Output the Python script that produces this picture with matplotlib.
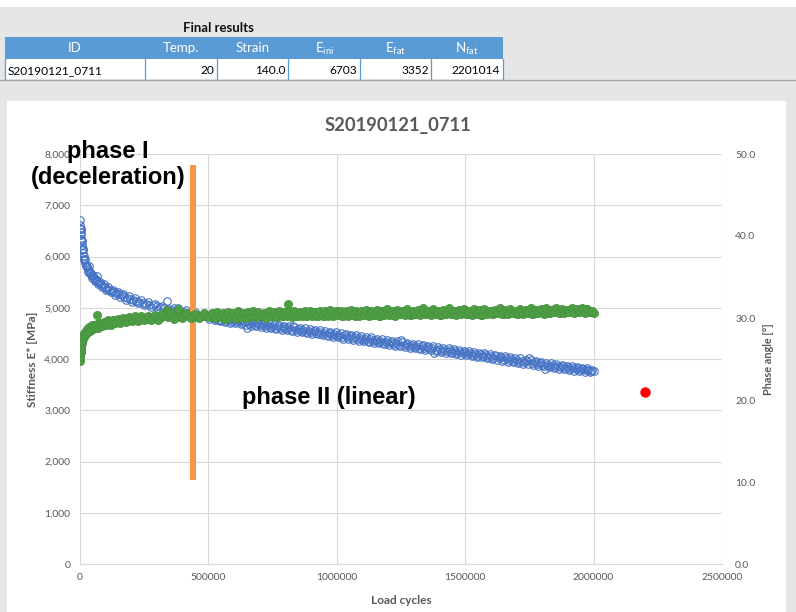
import matplotlib
matplotlib.use("Agg")
import matplotlib.pyplot as plt
from matplotlib.patches import Rectangle
from matplotlib.lines import Line2D

# ---------------- data ----------------
table_title = "Final results"
table_headers = ["ID", "Temp.", "Strain", r"E$_\mathregular{ini}$", r"E$_\mathregular{fat}$", r"N$_\mathregular{fat}$"]
table_values = ["S20190121_0711", "20", "140.0", "6703", "3352", "2201014"]

chart_title = "S20190121_0711"
x_label = "Load cycles"
y_label = "Stiffness E* [MPa]"
y2_label = "Phase angle [°]"

# load cycles in thousands (first set of readings)
cycles_k = [0, 1, 2, 3, 4, 5, 6, 8, 10, 12, 14, 17, 20, 23, 26, 30, 34, 38, 43, 48,
            54, 60, 67, 74, 81, 89, 97, 105, 114, 123, 132, 142, 152, 162, 173, 184,
            195, 207, 219, 231, 244, 257, 270, 284, 298, 312, 327, 342, 357, 373, 389,
            405, 422, 439, 456, 474, 492, 510,
            520, 530, 540, 550, 560, 570, 580, 590, 600, 610, 620, 630, 640, 650, 660,
            670, 680, 690, 700, 710, 720, 730, 740, 750, 760, 770, 780, 790, 800, 810,
            820, 830, 840, 850, 860, 870, 880, 890, 900, 910, 920, 930, 940, 950, 960,
            970, 980, 990, 1000, 1010, 1020, 1030, 1040, 1050, 1060, 1070, 1080, 1090,
            1100, 1110, 1120, 1130, 1140, 1150, 1160, 1170, 1180, 1190, 1200, 1210,
            1220, 1230, 1240, 1250, 1260, 1270, 1280, 1290, 1300, 1310, 1320, 1330,
            1340, 1350, 1360, 1370, 1380, 1390, 1400, 1410, 1420, 1430, 1440, 1450,
            1460, 1470, 1480, 1490, 1500, 1510, 1520, 1530, 1540, 1550, 1560, 1570,
            1580, 1590, 1600, 1610, 1620, 1630, 1640, 1650, 1660, 1670, 1680, 1690,
            1700, 1710, 1720, 1730, 1740, 1750, 1760, 1770, 1780, 1790, 1800, 1810,
            1820, 1830, 1840, 1850, 1860, 1870, 1880, 1890, 1900, 1910, 1920, 1930,
            1940, 1950, 1960, 1970, 1980, 1990, 2000]

stiffness = [6703, 6620, 6540, 6470, 6410, 6350, 6300, 6220, 6140, 6070, 6010, 5940,
             5880, 5830, 5790, 5750, 5710, 5680, 5640, 5610, 5580, 5550, 5520, 5490,
             5460, 5430, 5400, 5375, 5350, 5325, 5300, 5280, 5260, 5240, 5215, 5195,
             5175, 5155, 5135, 5115, 5095, 5075, 5060, 5045, 5025, 5010, 4995, 4975,
             4960, 4945, 4925, 4910, 4895, 4875, 4860, 4845, 4830, 4815,
             4790, 4810, 4770, 4760, 4790, 4740, 4770, 4730, 4760, 4720, 4740, 4700,
             4730, 4610, 4690, 4710, 4670, 4700, 4660, 4680, 4640, 4670, 4630, 4650,
             4610, 4640, 4600, 4630, 4590, 4610, 4570, 4640, 4560, 4580, 4540, 4570,
             4530, 4550, 4520, 4540, 4500, 4530, 4490, 4510, 4470, 4500, 4460, 4490,
             4450, 4470, 4430, 4460, 4420, 4440, 4410, 4430, 4390, 4410, 4380, 4400,
             4360, 4390, 4350, 4370, 4330, 4360, 4320, 4340, 4310, 4330, 4290, 4320,
             4280, 4370, 4270, 4290, 4250, 4270, 4240, 4260, 4220, 4250, 4210, 4230,
             4200, 4220, 4110, 4180, 4200, 4160, 4180, 4150, 4170, 4130, 4160, 4120,
             4140, 4110, 4130, 4090, 4110, 4080, 4100, 4060, 4090, 4050, 4070, 4040,
             4060, 4020, 4050, 4010, 4030, 3990, 4020, 3980, 4000, 3970, 3990, 3950,
             3970, 3940, 3960, 4010, 3920, 3940, 3900, 3920, 3890, 3800, 3880, 3870,
             3890, 3850, 3870, 3840, 3860, 3830, 3840, 3810, 3830, 3800, 3820, 3790,
             3800, 3780, 3790, 3770, 3760]

phase_angle = [24.7, 25.3, 25.8, 26.2, 26.5, 26.8, 27.0, 27.3, 27.5, 27.7, 27.9, 28.0,
               28.2, 28.3, 28.4, 28.5, 28.6, 28.7, 28.8, 28.9, 28.9, 29.0, 30.4, 29.1,
               29.2, 29.2, 29.3, 29.4, 29.4, 29.5, 29.6, 29.6, 29.7, 29.6, 29.8, 29.7,
               29.8, 29.9, 29.8, 29.9, 30.0, 29.9, 30.1, 30.0, 30.2, 30.0, 30.3, 30.1,
               30.4, 30.1, 30.5, 30.2, 30.3, 30.1, 30.4, 30.2, 30.3, 30.2,
               30.3, 30.1, 30.4, 30.2, 30.5, 30.3, 30.1, 30.4, 30.2, 30.0, 30.3, 30.5,
               30.2, 30.4, 30.1, 30.3, 30.6, 30.4, 30.2, 30.5, 30.3, 30.1, 30.4, 30.6,
               30.3, 30.2, 30.5, 30.3, 30.6, 31.7, 30.4, 30.2, 30.5, 30.3, 30.6, 30.4,
               30.2, 30.5, 30.7, 30.4, 30.3, 30.6, 30.4, 30.2, 30.5, 30.7, 30.4, 30.6,
               30.9, 30.5, 30.3, 30.6, 30.4, 30.7, 30.5, 30.3, 30.6, 30.4, 30.7, 30.5,
               30.8, 30.6, 30.4, 30.7, 30.5, 30.3, 30.6, 30.8, 30.5, 30.7, 30.4, 30.6,
               30.9, 30.7, 30.5, 30.8, 30.6, 30.4, 30.7, 30.5, 30.8, 31.0, 30.6, 30.8,
               30.5, 30.7, 30.9, 30.6, 30.4, 30.7, 30.5, 30.8, 31.0, 30.7, 30.5, 30.8,
               30.6, 30.9, 30.7, 30.5, 30.8, 30.6, 30.9, 30.7, 30.4, 30.7, 30.9, 30.6,
               30.8, 30.5, 30.7, 31.0, 30.7, 30.5, 30.8, 30.6, 30.9, 30.7, 30.5, 30.8,
               30.6, 30.9, 31.0, 30.7, 30.5, 30.8, 30.6, 30.9, 30.7, 31.0, 30.8, 30.6,
               30.9, 31.1, 30.8, 30.6, 30.9, 30.7, 31.0, 30.8, 31.1, 30.9, 30.7, 31.0,
               30.8, 31.1, 30.9, 30.7, 30.6]

# second, interleaved set of readings (load cycles in thousands)
cycles_k_b = [1.5, 2.5, 4.5, 7, 9, 11, 15, 18, 22, 28,
              32, 35, 40, 46, 51, 57, 64, 67, 71, 78,
              85, 93, 101, 110, 119, 128, 137, 147, 157, 168,
              179, 190, 201, 213, 225, 238, 250, 263, 277, 291,
              305, 320, 337, 350, 365, 382, 397, 414, 431, 448,
              465, 483, 501,
              515, 525, 535, 545, 555, 565, 575, 585, 595, 605,
              615, 625, 635, 645, 655, 665, 675, 685, 695, 705,
              715, 725, 735, 745, 755, 765, 775, 785, 795, 805,
              815, 825, 835, 845, 855, 865, 875, 885, 895, 905,
              915, 925, 935, 945, 955, 965, 975, 985, 995, 1005,
              1015, 1025, 1035, 1045, 1055, 1065, 1075, 1085, 1095, 1105,
              1115, 1125, 1135, 1145, 1155, 1165, 1175, 1185, 1195, 1205,
              1215, 1225, 1235, 1245, 1255, 1265, 1275, 1285, 1295, 1305,
              1315, 1325, 1335, 1345, 1355, 1365, 1375, 1385, 1395, 1405,
              1415, 1425, 1435, 1445, 1455, 1465, 1475, 1485, 1495, 1505,
              1515, 1525, 1535, 1545, 1555, 1565, 1575, 1585, 1595, 1605,
              1615, 1625, 1635, 1645, 1655, 1665, 1675, 1685, 1695, 1705,
              1715, 1725, 1735, 1745, 1755, 1765, 1775, 1785, 1795, 1805,
              1815, 1825, 1835, 1845, 1855, 1865, 1875, 1885, 1895, 1905,
              1915, 1925, 1935, 1945, 1955, 1965, 1975, 1985, 1995]

stiffness_b = [6560, 6530, 6330, 6300, 6130, 6140, 5950, 5960, 5820, 5800,
               5690, 5820, 5700, 5590, 5630, 5530, 5570, 5610, 5470, 5510,
               5410, 5460, 5350, 5400, 5300, 5350, 5250, 5310, 5210, 5270,
               5160, 5230, 5120, 5190, 5090, 5150, 5050, 5110, 5020, 5080,
               4980, 5040, 5140, 4930, 5000, 5000, 4880, 4950, 4840, 4910,
               4810, 4880, 4780,
               4850, 4760, 4830, 4740, 4820, 4720, 4800, 4710, 4790, 4700,
               4780, 4680, 4760, 4670, 4750, 4650, 4740, 4640, 4720, 4630,
               4710, 4610, 4700, 4600, 4680, 4590, 4670, 4570, 4650, 4560,
               4640, 4540, 4630, 4530, 4610, 4520, 4600, 4500, 4590, 4490,
               4570, 4480, 4560, 4460, 4540, 4450, 4530, 4430, 4520, 4420,
               4500, 4400, 4490, 4390, 4470, 4380, 4460, 4360, 4450, 4350,
               4430, 4340, 4420, 4320, 4400, 4310, 4390, 4290, 4370, 4280,
               4360, 4260, 4350, 4250, 4330, 4240, 4320, 4220, 4300, 4210,
               4290, 4190, 4280, 4180, 4260, 4170, 4250, 4150, 4230, 4140,
               4220, 4120, 4210, 4110, 4190, 4100, 4180, 4080, 4160, 4070,
               4150, 4050, 4140, 4040, 4120, 4030, 4110, 4010, 4090, 4000,
               4080, 3980, 4060, 3970, 4050, 3950, 4040, 3940, 4020, 3930,
               4010, 3910, 3990, 3900, 3980, 3880, 3960, 3870, 3950, 3860,
               3930, 3840, 3920, 3830, 3900, 3810, 3890, 3800, 3870, 3790,
               3860, 3770, 3850, 3760, 3830, 3750, 3820, 3740, 3790]

phase_angle_b = [25.4, 25.9, 26.4, 27.3, 27.2, 27.9, 27.7, 28.3, 28.0, 28.7,
                 28.3, 28.9, 28.4, 29.1, 28.6, 29.2, 28.8, 29.3, 28.8, 29.4,
                 29.0, 29.5, 29.1, 29.7, 29.2, 29.8, 29.4, 29.9, 29.4, 30.0,
                 29.5, 30.1, 29.6, 30.2, 29.6, 30.2, 29.7, 30.3, 29.8, 30.4,
                 29.8, 30.5, 31.0, 30.6, 29.9, 31.1, 30.0, 30.6, 30.0, 30.5,
                 30.0, 30.6, 30.1,
                 30.6, 30.0, 30.7, 30.1, 30.6, 29.9, 30.7, 30.1, 30.6, 30.0,
                 30.8, 30.1, 30.6, 30.0, 30.7, 30.2, 30.8, 30.1, 30.7, 30.2,
                 30.6, 30.0, 30.8, 30.2, 30.7, 30.1, 30.8, 30.2, 30.7, 30.3,
                 30.8, 30.1, 30.9, 30.2, 30.7, 30.3, 30.8, 30.2, 30.9, 30.3,
                 30.7, 30.2, 30.9, 30.3, 30.8, 30.2, 31.0, 30.3, 30.8, 30.4,
                 30.9, 30.3, 30.8, 30.2, 31.0, 30.4, 30.8, 30.3, 30.9, 30.4,
                 31.0, 30.3, 30.8, 30.4, 31.0, 30.3, 30.9, 30.4, 31.1, 30.4,
                 30.9, 30.3, 31.0, 30.5, 30.9, 30.4, 31.1, 30.4, 30.9, 30.5,
                 31.0, 30.4, 31.2, 30.5, 30.9, 30.4, 31.1, 30.5, 30.9, 30.4,
                 31.0, 30.5, 31.2, 30.5, 30.9, 30.4, 31.0, 30.5, 31.1, 30.5,
                 30.9, 30.4, 31.1, 30.5, 31.0, 30.4, 31.1, 30.5, 30.9, 30.5,
                 31.0, 30.6, 31.2, 30.5, 31.0, 30.5, 31.1, 30.6, 30.9, 30.5,
                 31.1, 30.5, 31.0, 30.6, 31.2, 30.5, 31.0, 30.6, 31.1, 30.5,
                 31.2, 30.6, 31.0, 30.7, 31.2, 30.6, 31.1, 30.6, 31.0, 30.7,
                 31.2, 30.6, 31.1, 30.7, 31.2, 30.6, 31.1, 30.7, 30.8]

fatigue_cycles = [2201014]
fatigue_stiffness = [3352]

phase_split_cycles = 440000
phase_split_range = [1640, 7790]

# ---------------- figure ----------------
W, H = 796, 612
fig = plt.figure(figsize=(W / 100, H / 100), dpi=100)
fig.patch.set_facecolor("#e6e6e6")

def fx(px):
    return px / W

def fy(py):
    return 1 - py / H

def rect(x0, y0, x1, y1, fc, ec="none", lw=0):
    fig.add_artist(Rectangle((fx(x0), fy(y1)), (x1 - x0) / W, (y1 - y0) / H,
                             transform=fig.transFigure, facecolor=fc,
                             edgecolor=ec, linewidth=lw, zorder=0))

def hline(x0, x1, y, color, lw=0.8):
    fig.add_artist(Line2D([fx(x0), fx(x1)], [fy(y), fy(y)], transform=fig.transFigure,
                          color=color, lw=lw))

def vline(x, y0, y1, color, lw=0.8):
    fig.add_artist(Line2D([fx(x), fx(x)], [fy(y0), fy(y1)], transform=fig.transFigure,
                          color=color, lw=lw))

# top white strip and chart panel
rect(0, 0, W, 7, "white")
rect(7, 101, 786, H, "white")

# ---------------- table ----------------
XL = "Lato"
col_edges = [5, 145, 216.7, 288.3, 359.7, 431, 502.7]
head_y0, head_y1 = 37.3, 59.3
row_y1 = 79
blue = "#5b9bd5"
rect(col_edges[0], head_y0, col_edges[-1], head_y1, blue)
rect(col_edges[0], head_y1, col_edges[-1], row_y1, "white")
for xe in col_edges:
    vline(xe, head_y1, row_y1, blue, lw=0.9)
hline(0, W, row_y1 + 0.5, "#a6a6a6", lw=0.9)

fig.text(fx(218.5), fy(28.5), table_title, fontsize=9.5, fontweight="bold",
         family=XL, ha="center", va="center", color="#111111")
for i, h in enumerate(table_headers):
    cx = (col_edges[i] + col_edges[i + 1]) / 2
    fig.text(fx(cx), fy(48.5), h, fontsize=9.5, family=XL, ha="center", va="center",
             color="white")
for i, v in enumerate(table_values):
    if i == 0:
        fig.text(fx(col_edges[0] + 2.5), fy(70.5), v, fontsize=8.6, family=XL,
                 ha="left", va="center", color="black")
    else:
        fig.text(fx(col_edges[i + 1] - 2.5), fy(70.5), v, fontsize=8.6, family=XL,
                 ha="right", va="center", color="black")

# ---------------- chart ----------------
ax_l, ax_r, ax_t, ax_b = 80, 722, 154, 564
ax = fig.add_axes([fx(ax_l), fy(ax_b), (ax_r - ax_l) / W, (ax_b - ax_t) / H])
ax.set_facecolor("none")
ax2 = ax.twinx()

cycles = [c * 1000 for c in cycles_k]
cycles_b = [c * 1000 for c in cycles_k_b]

blue_style = dict(linestyle="none", marker="o", markersize=5.4,
                  markerfacecolor="none", markeredgecolor="#4472c4",
                  markeredgewidth=0.8, zorder=3)
ax.plot(cycles, stiffness, **blue_style)
ax.plot(cycles_b, stiffness_b, **blue_style)
ax.plot(fatigue_cycles, fatigue_stiffness, linestyle="none", marker="o",
        markersize=6.5, color="#ff0000", zorder=3)
ax.plot([phase_split_cycles, phase_split_cycles], phase_split_range,
        color="#f79646", lw=4.3, solid_capstyle="butt", zorder=4)

green_style = dict(linestyle="none", marker="o", markersize=5.8,
                   markerfacecolor="#4e9d45", markeredgecolor="#46943f",
                   markeredgewidth=0.6, zorder=3)
ax2.plot(cycles, phase_angle, **green_style)
ax2.plot(cycles_b, phase_angle_b, **green_style)

ax.set_xlim(0, 2500000)
ax.set_ylim(0, 8000)
ax2.set_ylim(0, 50)
ax.set_xticks([0, 500000, 1000000, 1500000, 2000000, 2500000])
ax.set_yticks(range(0, 8001, 1000))
ax2.set_yticks([0, 10, 20, 30, 40, 50])
ax.set_xticklabels([f"{int(v)}" for v in ax.get_xticks()])
ax.set_yticklabels([f"{int(v):,}" for v in ax.get_yticks()])
ax2.set_yticklabels([f"{v:.1f}" for v in ax2.get_yticks()])

ax.grid(True, color="#d9d9d9", lw=0.8, zorder=0)
ax.set_axisbelow(True)
for a in (ax, ax2):
    for s in a.spines.values():
        s.set_visible(False)
ax.spines["bottom"].set_visible(True)
ax.spines["bottom"].set_color("#d9d9d9")
ax.spines["bottom"].set_linewidth(0.8)

tick_color = "#595959"
ax.tick_params(axis="x", length=0, pad=6.5, labelsize=7.5, labelcolor=tick_color)
ax.tick_params(axis="y", length=0, pad=7, labelsize=7.5, labelcolor=tick_color)
ax2.tick_params(axis="y", length=0, pad=9.5, labelsize=7.5, labelcolor=tick_color)
for lab in ax.get_xticklabels() + ax.get_yticklabels() + ax2.get_yticklabels():
    lab.set_family(XL)

# titles and axis labels
fig.text(fx(398), fy(126), chart_title, fontsize=13.2, fontweight="bold", family=XL,
         ha="center", va="center", color="#595959")
fig.text(fx(401), fy(600), x_label, fontsize=8.5, fontweight="bold", family=XL,
         ha="center", va="center", color="#595959")
fig.text(fx(33), fy(359), y_label, fontsize=8.5, fontweight="bold", family=XL,
         ha="center", va="center", rotation=90, color="#595959")
fig.text(fx(769), fy(359), y2_label, fontsize=7.8, fontweight="bold", family=XL,
         ha="center", va="center", rotation=90, color="#595959")

# phase annotations
PF = "Liberation Sans"
fig.text(fx(108), fy(158), "phase I", fontsize=17, fontweight="bold", family=PF,
         ha="center", va="baseline", color="black")
fig.text(fx(108), fy(184), "(deceleration)", fontsize=17, fontweight="bold", family=PF,
         ha="center", va="baseline", color="black")
fig.text(fx(329), fy(404), "phase II (linear)", fontsize=17, fontweight="bold",
         family=PF, ha="center", va="baseline", color="black")

fig.savefig("out.png", dpi=100, facecolor=fig.get_facecolor())
